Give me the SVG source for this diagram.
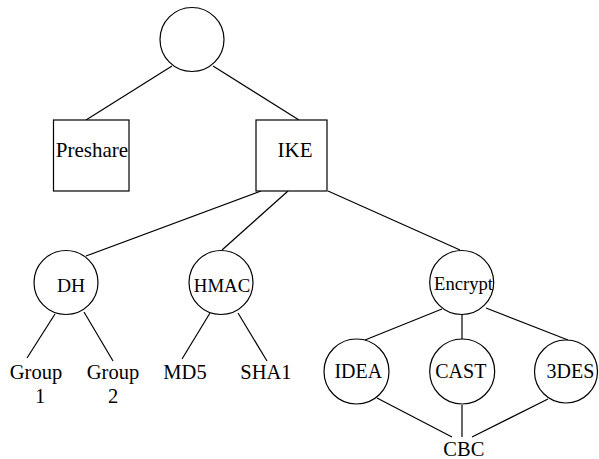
<svg xmlns="http://www.w3.org/2000/svg" width="599" height="459" viewBox="0 0 599 459">
<style>
.n{fill:#fff;stroke:#000;stroke-width:1.2}
.e line{stroke:#000;stroke-width:1.2}
</style>
<rect width="599" height="459" fill="#fff"/>
<g class="e" id="connectors">
<line x1="172" y1="66" x2="86" y2="120"/>
<line x1="213" y1="66" x2="299" y2="120"/>
<line x1="261" y1="191" x2="86" y2="256"/>
<line x1="288" y1="191" x2="222" y2="250"/>
<line x1="328" y1="191" x2="460" y2="250"/>
<line x1="55" y1="314" x2="27" y2="358"/>
<line x1="84" y1="312" x2="113" y2="361"/>
<line x1="210" y1="313" x2="182" y2="359"/>
<line x1="238" y1="313" x2="267" y2="361"/>
<line x1="442" y1="309" x2="365" y2="340"/>
<line x1="462" y1="315" x2="462" y2="339"/>
<line x1="486" y1="308" x2="568" y2="340"/>
<line x1="377" y1="398" x2="452" y2="437"/>
<line x1="462" y1="405" x2="462" y2="437"/>
<line x1="548" y1="399" x2="472" y2="437"/>
</g>
<g font-family="Liberation Serif, Times New Roman, serif" fill="#000" text-anchor="middle">
<g id="root"><circle class="n" cx="192" cy="39.5" r="32"/></g>
<g id="preshare"><rect class="n" x="53.5" y="120" width="75.5" height="71"/><text font-size="21" x="92" y="157">Preshare</text></g>
<g id="ike"><rect class="n" x="256" y="120" width="71" height="71"/><text font-size="21" x="295" y="157">IKE</text></g>
<g id="dh"><circle class="n" cx="66" cy="282.5" r="32"/><text x="71" y="291.5" font-size="19.5">DH</text></g>
<g id="hmac"><circle class="n" cx="221" cy="282.5" r="32"/><text x="222" y="291.5" font-size="18.8">HMAC</text></g>
<g id="encrypt"><circle class="n" cx="461.7" cy="282.5" r="32"/><text x="463.5" y="290" font-size="18.6">Encrypt</text></g>
<g id="group1" font-size="20.5"><text x="36" y="379">Group</text><text x="40" y="403">1</text></g>
<g id="group2" font-size="20.5"><text x="113" y="379">Group</text><text x="113" y="403">2</text></g>
<g id="md5" font-size="20.5"><text x="185" y="379">MD5</text></g>
<g id="sha1" font-size="20.5"><text x="266" y="379">SHA1</text></g>
<g id="idea"><circle class="n" cx="356.5" cy="371.5" r="32.5"/><text font-size="20" x="358.3" y="378.3">IDEA</text></g>
<g id="cast"><circle class="n" cx="462.2" cy="371.5" r="32.5"/><text font-size="20" x="460.8" y="378.3">CAST</text></g>
<g id="3des"><circle class="n" cx="566" cy="371.5" r="31.5"/><text font-size="20" x="570.5" y="378.3">3DES</text></g>
<g id="cbc" font-size="20.5"><text x="463.8" y="456">CBC</text></g>
</g>
</svg>
